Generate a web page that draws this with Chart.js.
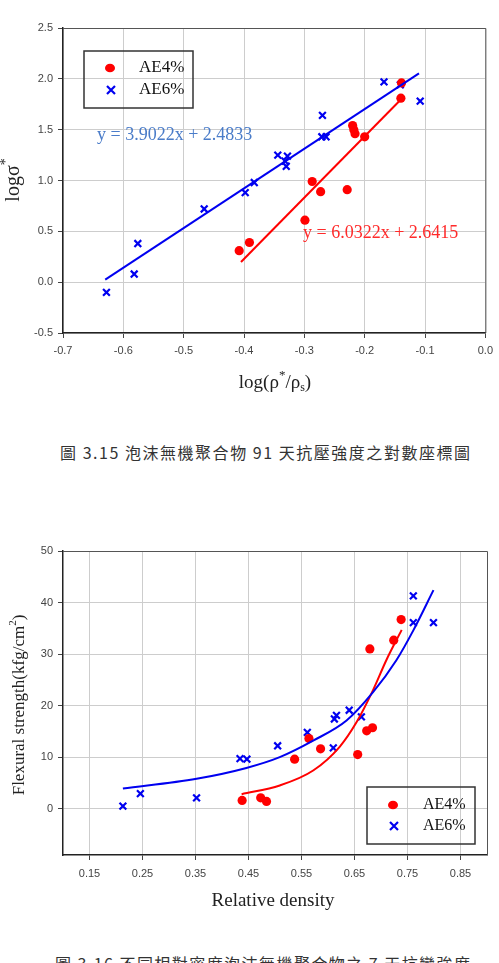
<!DOCTYPE html>
<html>
<head>
<meta charset="utf-8">
<script src="https://cdn.jsdelivr.net/npm/chart.js@4.4.0/dist/chart.umd.min.js"></script>
<style>
  html,body{margin:0;padding:0;background:#fff;}
  body{width:499px;height:963px;position:relative;overflow:hidden;}
  .wrap{position:absolute;left:0;width:499px;}
  .cap{position:absolute;left:60px;white-space:nowrap;font-family:"Noto Sans CJK TC";font-size:16px;line-height:16px;color:#333;}
</style>
</head>
<body>

<div class="wrap" style="top:0;height:420px;"><canvas id="logChart"></canvas></div>
<div class="cap" id="cap1" style="top:444px;">圖 3.15 泡沫無機聚合物 91 天抗壓強度之對數座標圖</div>

<div class="wrap" style="top:530px;height:400px;"><canvas id="flexChart"></canvas></div>
<div class="cap" id="cap2" style="top:955px;left:55px;">圖 3.16 不同相對密度泡沫無機聚合物之 7 天抗彎強度</div>

<script>
// ================= FIG 3.15 DATA =================
const logXTicks = [-0.7, -0.6, -0.5, -0.4, -0.3, -0.2, -0.1, 0.0];
const logYTicks = [-0.5, 0.0, 0.5, 1.0, 1.5, 2.0, 2.5];

const ae4LogX = [-0.408, -0.391, -0.299, -0.287, -0.273, -0.229, -0.220, -0.218, -0.216, -0.200, -0.140, -0.139];
const ae4LogY = [0.31, 0.39, 0.61, 0.99, 0.89, 0.91, 1.54, 1.50, 1.46, 1.43, 1.81, 1.96];

const ae6LogX = [-0.628, -0.582, -0.576, -0.466, -0.398, -0.383, -0.344, -0.328, -0.330, -0.332, -0.270, -0.271, -0.264, -0.168, -0.141, -0.108];
const ae6LogY = [-0.10, 0.08, 0.38, 0.72, 0.88, 0.98, 1.25, 1.24, 1.14, 1.19, 1.64, 1.43, 1.43, 1.97, 1.94, 1.78];

// fit line end points (from the equations on the chart)
const ae4FitX = [-0.405, -0.140];
const ae4FitY = [0.198, 1.797];
const ae6FitX = [-0.630, -0.110];
const ae6FitY = [0.025, 2.054];

// ================= FIG 3.16 DATA =================
const flexXTicks = [0.15, 0.25, 0.35, 0.45, 0.55, 0.65, 0.75, 0.85];
const flexYTicks = [0, 10, 20, 30, 40, 50];

const ae4DenX = [0.438, 0.473, 0.484, 0.537, 0.564, 0.586, 0.656, 0.673, 0.684, 0.679, 0.724, 0.738];
const ae4DenY = [1.6, 2.1, 1.4, 9.6, 13.6, 11.6, 10.5, 15.1, 15.7, 31.0, 32.7, 36.7];

const ae6DenX = [0.213, 0.246, 0.352, 0.434, 0.447, 0.505, 0.561, 0.610, 0.612, 0.616, 0.640, 0.663, 0.761, 0.761, 0.799];
const ae6DenY = [0.5, 2.9, 2.1, 9.7, 9.6, 12.2, 14.8, 11.8, 17.4, 18.1, 19.1, 17.8, 41.3, 36.1, 36.1];

// trend curves
const ae4CurveX = [0.437, 0.509, 0.572, 0.622, 0.654, 0.685, 0.710, 0.739];
const ae4CurveY = [2.8, 4.5, 7.4, 12.0, 16.8, 23.0, 28.8, 34.7];
const ae6CurveX = [0.213, 0.352, 0.446, 0.509, 0.572, 0.635, 0.685, 0.729, 0.761, 0.799];
const ae6CurveY = [3.9, 5.8, 7.9, 10.0, 13.2, 17.1, 22.6, 28.8, 34.6, 42.4];

const RED = "#ff0000";
const BLUE = "#0000f0";
const SERIF = '"Liberation Serif", "Times New Roman", serif';
const SANS = '"Liberation Sans", Arial, sans-serif';

function pts(xs, ys){
  return xs.map((x,i) => ({x:x, y:ys[i]}));
}

// ================= TEXT HELPERS =================
// parts: [text, size, dy]
function drawRuns(ctx, parts, x, y, align){
  let w = 0;
  parts.forEach(p => {
    ctx.font = p[1] + "px " + SERIF;
    w += ctx.measureText(p[0]).width;
  });
  let cx = align === "center" ? x - w/2 : x;
  ctx.textAlign = "left";
  ctx.textBaseline = "middle";
  parts.forEach(p => {
    ctx.font = p[1] + "px " + SERIF;
    ctx.fillText(p[0], cx, y + (p[2] || 0));
    cx += ctx.measureText(p[0]).width;
  });
}

function drawLegend(ctx, box, rows){
  ctx.save();
  ctx.strokeStyle = "#333";
  ctx.lineWidth = 1.5;
  ctx.strokeRect(box.x, box.y, box.w, box.h);
  rows.forEach(r => {
    if(r.type === "dot"){
      ctx.fillStyle = RED;
      ctx.beginPath();
      ctx.ellipse(r.mx, r.my, 5, 4.3, 0, 0, Math.PI*2);
      ctx.fill();
    } else {
      ctx.strokeStyle = BLUE;
      ctx.lineWidth = 2.2;
      ctx.beginPath();
      ctx.moveTo(r.mx-4, r.my-4); ctx.lineTo(r.mx+4, r.my+4);
      ctx.moveTo(r.mx+4, r.my-4); ctx.lineTo(r.mx-4, r.my+4);
      ctx.stroke();
    }
    ctx.fillStyle = "#111";
    drawRuns(ctx, [[r.text, r.size]], r.tx, r.my, "left");
  });
  ctx.restore();
}

function frame(chart){
  const a = chart.chartArea;
  const ctx = chart.ctx;
  ctx.save();
  ctx.strokeStyle = "#555";
  ctx.lineWidth = 1;
  ctx.beginPath();
  ctx.moveTo(a.left, a.top + 0.5);
  ctx.lineTo(a.right + 0.5, a.top + 0.5);
  ctx.lineTo(a.right + 0.5, a.bottom);
  ctx.stroke();
  ctx.restore();
}

function axisOpts(min, max, ticks, fmt, pad, size){
  return {
    type: "linear",
    min: min,
    max: max,
    afterBuildTicks: s => { s.ticks = ticks.map(v => ({value: v})); },
    afterFit: s => {
      if(s.isHorizontal()) s.height = size; else s.width = size;
    },
    grid: { color: "#cdcdcd", lineWidth: 1, tickLength: 5, tickColor: "#444" },
    border: { color: "#222", width: 1.5 },
    ticks: {
      color: "#444",
      padding: pad,
      font: { family: SANS, size: 11 },
      callback: v => fmt(v)
    }
  };
}

// ================= FIG 3.15 =================
const logExtras = {
  id: "logExtras",
  afterDraw(chart){
    const ctx = chart.ctx;
    frame(chart);
    ctx.save();

    // equations
    ctx.fillStyle = "#4a7cc9";
    drawRuns(ctx, [["y = 3.9022x + 2.4833", 18]], 97, 135, "left");
    ctx.fillStyle = "#ff2a2a";
    drawRuns(ctx, [["y = 6.0322x + 2.6415", 18]], 303, 233, "left");

    // axis titles
    ctx.fillStyle = "#222";
    drawRuns(ctx, [["log(\u03c1", 19], ["*", 13, -7], ["/\u03c1", 19], ["s", 12, 5], [")", 19]], 275, 383, "center");

    ctx.translate(14, 180);
    ctx.rotate(-Math.PI/2);
    drawRuns(ctx, [["log\u03c3", 20], ["*", 14, -8]], 0, 0, "center");
    ctx.restore();

    drawLegend(ctx, {x:84, y:51, w:109, h:57}, [
      {type:"dot", mx:110, my:68, text:"AE4%", tx:139, size:17},
      {type:"x", mx:111, my:90, text:"AE6%", tx:139, size:17}
    ]);
  }
};

new Chart(document.getElementById("logChart"), {
  type: "scatter",
  data: {
    datasets: [
      { label:"AE6% fit", data: pts(ae6FitX, ae6FitY), showLine:true, pointRadius:0, borderColor:BLUE, borderWidth:2 },
      { label:"AE4% fit", data: pts(ae4FitX, ae4FitY), showLine:true, pointRadius:0, borderColor:RED, borderWidth:2 },
      { label:"AE4%", data: pts(ae4LogX, ae4LogY), pointStyle:"circle", pointRadius:4.6, backgroundColor:RED, borderColor:RED, borderWidth:0 },
      { label:"AE6%", data: pts(ae6LogX, ae6LogY), pointStyle:"crossRot", pointRadius:4.8, borderColor:BLUE, borderWidth:2.2 }
    ]
  },
  options: {
    responsive: true,
    maintainAspectRatio: false,
    animation: false,
    layout: { padding: { left:0, right:12, top:28, bottom:0 } },
    plugins: { legend: { display:false }, tooltip: { enabled:false } },
    scales: {
      x: axisOpts(-0.7, 0.0, logXTicks, v => v.toFixed(1), 6, 87),
      y: axisOpts(-0.5, 2.5, logYTicks, v => v.toFixed(1), 5, 63)
    }
  },
  plugins: [logExtras]
});

// ================= FIG 3.16 =================
const flexExtras = {
  id: "flexExtras",
  afterDraw(chart){
    const ctx = chart.ctx;
    frame(chart);
    ctx.save();
    ctx.fillStyle = "#222";
    drawRuns(ctx, [["Relative density", 19]], 273, 371, "center");

    ctx.translate(20, 175);
    ctx.rotate(-Math.PI/2);
    drawRuns(ctx, [["Flexural strength(kfg/cm", 17], ["2", 11, -7], [")", 17]], 0, 0, "center");
    ctx.restore();

    drawLegend(ctx, {x:367, y:257, w:108, h:57}, [
      {type:"dot", mx:393, my:275, text:"AE4%", tx:423, size:16},
      {type:"x", mx:394, my:296, text:"AE6%", tx:423, size:16}
    ]);
  }
};

new Chart(document.getElementById("flexChart"), {
  type: "scatter",
  data: {
    datasets: [
      { label:"AE6% curve", data: pts(ae6CurveX, ae6CurveY), showLine:true, pointRadius:0, borderColor:BLUE, borderWidth:2, cubicInterpolationMode:"monotone" },
      { label:"AE4% curve", data: pts(ae4CurveX, ae4CurveY), showLine:true, pointRadius:0, borderColor:RED, borderWidth:2, cubicInterpolationMode:"monotone" },
      { label:"AE4%", data: pts(ae4DenX, ae4DenY), pointStyle:"circle", pointRadius:4.6, backgroundColor:RED, borderColor:RED, borderWidth:0 },
      { label:"AE6%", data: pts(ae6DenX, ae6DenY), pointStyle:"crossRot", pointRadius:4.8, borderColor:BLUE, borderWidth:2.2 }
    ]
  },
  options: {
    responsive: true,
    maintainAspectRatio: false,
    animation: false,
    layout: { padding: { left:0, right:12, top:21, bottom:0 } },
    plugins: { legend: { display:false }, tooltip: { enabled:false } },
    scales: {
      x: axisOpts(0.1, 0.9, flexXTicks, v => v.toFixed(2), 7, 75),
      y: axisOpts(-9, 50, flexYTicks, v => String(v), 5, 63)
    }
  },
  plugins: [flexExtras]
});

// ================= CAPTIONS =================
function fitCaption(id, width){
  const el = document.getElementById(id);
  const n = el.textContent.length;
  const w = el.getBoundingClientRect().width;
  el.style.letterSpacing = ((width - w) / (n - 1)) + "px";
}
fitCaption("cap1", 410);
fitCaption("cap2", 415);
</script>
</body>
</html>
